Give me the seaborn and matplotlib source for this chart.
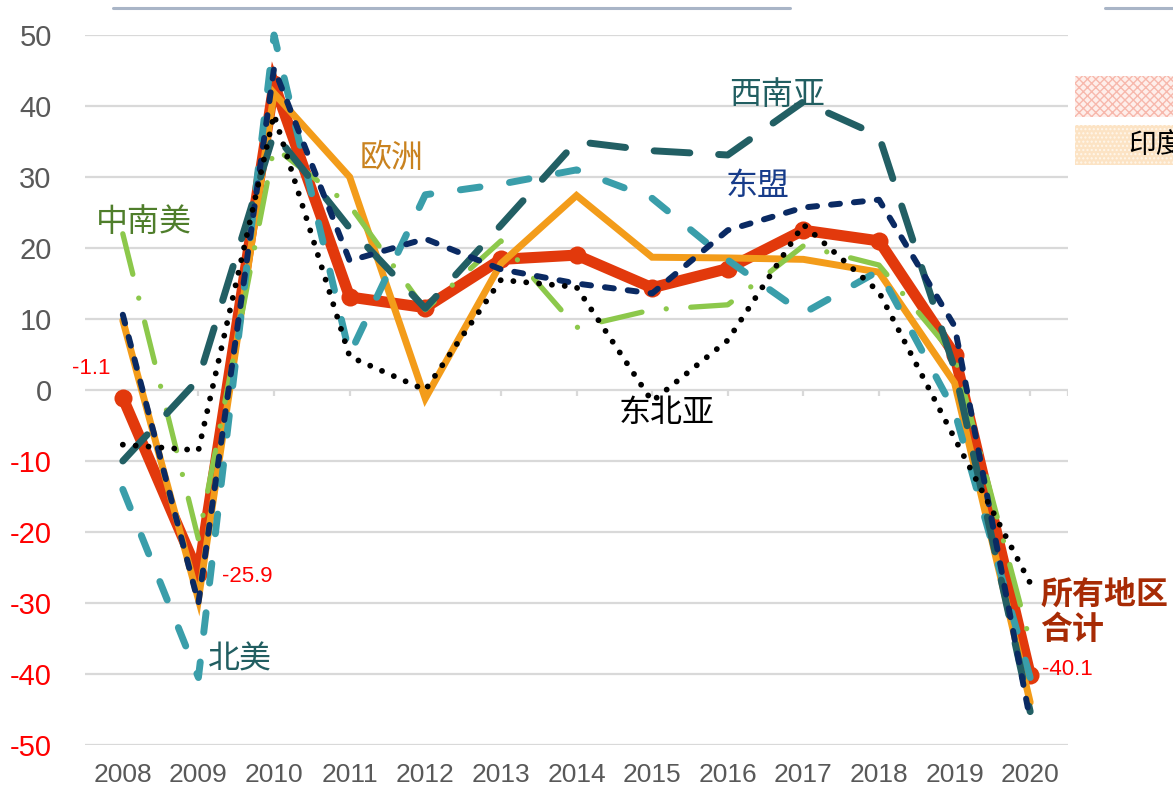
import matplotlib
matplotlib.use("Agg")
import matplotlib.pyplot as plt
import seaborn as sns
import pandas as pd
from matplotlib.patches import Rectangle
from matplotlib.lines import Line2D

# ---------------- data ----------------
years = ["2008", "2009", "2010", "2011", "2012", "2013", "2014",
         "2015", "2016", "2017", "2018", "2019", "2020"]
total = [-1.1, -25.9, 43.1, 13.1, 11.6, 18.4, 19.0, 14.4, 17.1, 22.5, 21.0, 5.0, -40.1]
europe = [9.8, -29.5, 41.8, 30.0, -1.2, 17.8, 27.4, 18.7, 18.6, 18.4, 16.6, 1.0, -44.0]
latam = [22.0, -21.0, 34.2, 26.0, 11.3, 21.0, 8.8, 11.3, 12.0, 20.3, 17.6, 4.8, -35.5]
namerica = [-14.0, -40.5, 50.0, 5.0, 27.5, 29.0, 31.0, 27.0, 18.3, 10.8, 16.8, -3.0, -40.5]
swasia = [-10.0, 1.5, 36.2, 22.8, 11.5, 23.2, 35.0, 33.7, 33.1, 40.6, 35.8, 3.0, -45.3]
asean = [10.6, -30.0, 45.3, 18.2, 21.3, 17.0, 15.0, 13.6, 22.5, 25.7, 26.8, 9.0, -46.5]
neasia = [-7.7, -8.5, 38.8, 4.7, 0.0, 15.5, 14.5, -1.6, 7.0, 23.3, 13.8, -6.8, -27.2]

yticks = [50, 40, 30, 20, 10, 0, -10, -20, -30, -40, -50]

# ---------------- style ----------------
sns.set_theme(style="white")
plt.rcParams['font.family'] = ['Liberation Sans', 'Noto Sans CJK SC', 'DejaVu Sans']
CJK = ['Noto Sans CJK SC', 'DejaVu Sans']

W, H = 1173, 787
fig = plt.figure(figsize=(W / 100, H / 100), dpi=100)
ax = fig.add_axes([85 / W, 1 - 745 / H, (1068 - 85) / W, (745 - 35) / H])

x = list(range(len(years)))

series = [
    # values, color, lw, linestyle, zorder, extra
    (total, "#E2390C", 8.0, "-", 2, dict(marker="o", markersize=13, markeredgewidth=0)),
    (europe, "#F39C1A", 5.0, "-", 3, {}),
    (latam, "#8CC84B", 3.8, (0, (7.9, 4.65, 0.01, 4.65)), 4, {}),
    (namerica, "#3A9EAA", 5.0, (0, (2.85, 4.3)), 5, {}),
    (swasia, "#225F64", 5.0, (0, (5.15, 4.15)), 6, {}),
    (asean, "#0A2A63", 4.3, (0, (1.5, 2.35)), 7, {}),
    (neasia, "#000000", 4.2, (0, (0.01, 2.2)), 8, {}),
]

for vals, color, lw, ls, z, extra in series:
    d = pd.DataFrame({"x": x, "y": vals})
    sns.lineplot(data=d, x="x", y="y", ax=ax, color=color, linewidth=lw,
                 linestyle=ls, zorder=z, dash_capstyle="round",
                 solid_capstyle="round", solid_joinstyle="miter",
                 clip_on=False, **extra)

# ---------------- axes ----------------
ax.set_xlim(-0.5, len(years) - 0.5)
ax.set_ylim(-50, 50)
for s in ax.spines.values():
    s.set_visible(False)
ax.set_xlabel("")
ax.set_ylabel("")

ax.set_yticks(yticks)
ax.set_yticklabels([str(v) for v in yticks], fontsize=21)
for lab, v in zip(ax.get_yticklabels(), yticks):
    lab.set_color("#595959" if v >= 0 else "#FF0000")
ax.tick_params(axis="y", length=0, pad=24)
ax.yaxis.grid(True, color="#D9D9D9", linewidth=1.6)
ax.set_axisbelow(True)

ax.set_xticks(x)
ax.set_xticklabels(years, fontsize=19, color="#595959")
ax.tick_params(axis="x", length=0, pad=13)

# category tick marks on the zero line
tick_pos = x[1:] + [len(years) - 0.5]
ax.vlines(tick_pos, -0.85, 0, color="#D9D9D9", linewidth=1.6, zorder=1)

# ---------------- labels ----------------
ax.text(0.28, 23.7, "中南美", color="#4F7E2B", fontsize=23, family=CJK,
        ha="center", va="center", zorder=10)
ax.text(3.56, 32.7, "欧洲", color="#C9821F", fontsize=23, family=CJK,
        ha="center", va="center", zorder=10)
ax.text(8.65, 41.5, "西南亚", color="#215E61", fontsize=23, family=CJK,
        ha="center", va="center", zorder=10)
ax.text(8.40, 28.7, "东盟", color="#173C8A", fontsize=23, family=CJK,
        ha="center", va="center", zorder=10)
ax.text(7.19, -3.2, "东北亚", color="#000000", fontsize=23, family=CJK,
        ha="center", va="center", zorder=10)
ax.text(1.55, -38.0, "北美", color="#215E61", fontsize=23, family=CJK,
        ha="center", va="center", zorder=10)
ax.text(12.13, -31.3, "所有地区\n合计", color="#A72B05", fontsize=23,
        family=CJK, fontweight="bold", ha="left", va="center",
        linespacing=1.15, zorder=10, clip_on=False)

# value labels from total series
ax.text(0 - 0.42, total[0] + 4.1, f"{total[0]:.1f}", color="#FF0000",
        fontsize=16, ha="center", va="center", zorder=10, clip_on=False)
ax.text(1 + 0.31, total[1] - 0.3, f"{total[1]:.1f}", color="#FF0000",
        fontsize=16, ha="left", va="center", zorder=10)
ax.text(12 + 0.16, total[12] + 0.7, f"{total[12]:.1f}", color="#FF0000",
        fontsize=16, ha="left", va="center", zorder=10, clip_on=False)

# ---------------- decorations ----------------
fig.add_artist(Line2D([113 / W, 790 / W], [1 - 8 / H] * 2,
                      color="#A9B5C7", linewidth=2.2))
fig.add_artist(Line2D([1105 / W, 1.0], [1 - 8 / H] * 2,
                      color="#A9B5C7", linewidth=2.2))
fig.add_artist(Rectangle((1075 / W, 1 - 117 / H), 120 / W, 41 / H,
                         transform=fig.transFigure, facecolor="#FEEEEA",
                         edgecolor="#F7B8AC", hatch="xxxx", linewidth=0))
fig.add_artist(Rectangle((1075 / W, 1 - 165 / H), 120 / W, 40 / H,
                         transform=fig.transFigure, facecolor="#FCE3C4",
                         edgecolor="#FFF6EA", hatch="....", linewidth=0))
fig.text(1128 / W, 1 - 145 / H, "印度", fontsize=20, family=CJK,
         color="#000000", ha="left", va="center")

fig.savefig("out.png", dpi=100)
